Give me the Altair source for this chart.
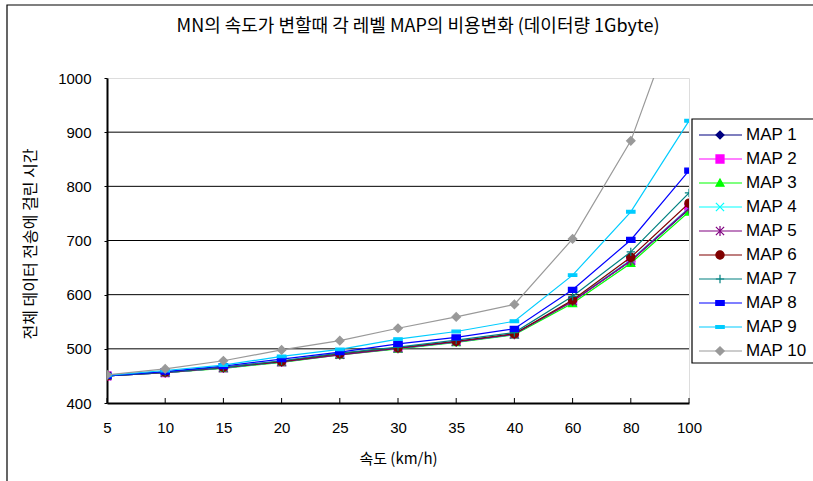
import altair as alt
import pandas as pd

# Speed categories (km/h) and the total transfer time for each MAP level
speeds = ["5", "10", "15", "20", "25", "30", "35", "40", "60", "80", "100"]
names = ["MAP 1", "MAP 2", "MAP 3", "MAP 4", "MAP 5",
         "MAP 6", "MAP 7", "MAP 8", "MAP 9", "MAP 10"]

map1 = [450, 456, 465, 476, 490, 501, 513, 527, 588, 662, 758]
map2 = [450, 456, 465, 476, 490, 501, 514, 527, 588, 663, 760]
map3 = [450, 456, 464, 475, 489, 500, 512, 526, 584, 658, 753]
map4 = [450, 456, 465, 476, 490, 501, 513, 527, 589, 664, 760]
map5 = [450, 456, 465, 476, 489, 501, 513, 527, 588, 663, 759]
map6 = [450, 457, 466, 477, 491, 502, 514, 528, 590, 669, 769]
map7 = [450, 457, 466, 478, 492, 503, 516, 530, 597, 679, 788]
map8 = [450, 458, 468, 481, 494, 509, 521, 537, 609, 701, 829]
map9 = [451, 460, 470, 486, 499, 518, 532, 551, 636, 753, 921]
map10 = [452, 463, 478, 498, 515, 538, 559, 582, 703, 884, 1180]
series_values = [map1, map2, map3, map4, map5, map6, map7, map8, map9, map10]

y_ticks = [400, 500, 600, 700, 800, 900, 1000]
grid_values = [500, 600, 700, 800, 900]

title_text = "MN의 속도가 변할때 각 레벨 MAP의 비용변화 (데이터량 1Gbyte)"
x_title = "속도 (km/h)"
y_title = "전체 데이터 전송에 걸린 시간"

# Excel-style series styling
colors = ["#000080", "#FF00FF", "#00FF00", "#00FFFF", "#800080",
          "#800000", "#008080", "#0000FF", "#00CCFF", "#999999"]
shapes = [
    "M-1,0L0,-1L1,0L0,1Z",                       # diamond
    "M-1,-1L1,-1L1,1L-1,1Z",                     # square
    "M0,-1L1,0.8L-1,0.8Z",                       # triangle
    "M-1,-1L1,1M-1,1L1,-1",                      # x
    "M-1,-1L1,1M-1,1L1,-1M0,-1.2L0,1.2",         # asterisk
    "circle",                                    # circle
    "M-1,0L1,0M0,-1L0,1",                        # plus
    "M-1,-0.6L1,-0.6L1,0.6L-1,0.6Z",             # small bar
    "M-1,-0.32L1,-0.32L1,0.32L-1,0.32Z",         # wide bar
    "M-1,0L0,-1L1,0L0,1Z",                       # diamond
]
sizes = [64, 72, 81, 64, 64, 100, 81, 49, 121, 72]

rows = []
for name, vals in zip(names, series_values):
    for s, v in zip(speeds, vals):
        rows.append({"speed": s, "series": name, "value": v})
df = pd.DataFrame(rows)

W, H = 582, 325
FONT = "Liberation Sans, Noto Sans CJK KR"
KFONT = "Noto Sans CJK KR"

color_scale = alt.Scale(domain=names, range=colors)
shape_scale = alt.Scale(domain=names, range=shapes)
size_scale = alt.Scale(domain=names, range=sizes)

x_enc = alt.X(
    "speed:N", sort=speeds,
    scale=alt.Scale(type="point", padding=0),
    axis=alt.Axis(
        title=x_title, titleFont=KFONT, titleFontSize=15, titleFontWeight="normal",
        titleColor="black", titleX=W / 2, titleY=55, titleBaseline="middle",
        labelAngle=0, labelFont=FONT, labelFontSize=15, labelColor="black",
        labelPadding=17, ticks=False, domainColor="black", domainWidth=2,
        grid=False,
    ),
)
y_enc = alt.Y(
    "value:Q",
    scale=alt.Scale(domain=[400, 1000], nice=False, zero=False),
    axis=alt.Axis(
        title=y_title, titleFont=KFONT, titleFontSize=16, titleFontWeight="normal",
        titleColor="black", titleX=-77, titleY=H / 2 + 3, titleAngle=-90,
        titleBaseline="middle", titleAlign="center",
        values=y_ticks, format="d", labelFont=FONT, labelFontSize=15,
        labelColor="black", labelPadding=13, tickSize=3, tickColor="black",
        tickWidth=1, domainColor="black", domainWidth=2, grid=False,
    ),
)

base = alt.Chart(df)

# horizontal gridlines
grid = alt.Chart(pd.DataFrame({"value": grid_values})).mark_rule(
    color="black", strokeWidth=1
).encode(y=alt.Y("value:Q", scale=alt.Scale(domain=[400, 1000], nice=False, zero=False)))

# inward tick marks on the category axis
xticks = alt.Chart(pd.DataFrame({"speed": speeds})).mark_rule(
    color="black", strokeWidth=1
).encode(x=alt.X("speed:N", sort=speeds), y=alt.value(H - 5), y2=alt.value(H))

layers = [grid]
for name in names:
    sub = base.transform_filter(alt.datum.series == name)
    line = sub.mark_line(strokeWidth=1.2, clip=True).encode(
        x=x_enc, y=y_enc,
        color=alt.Color("series:N", scale=color_scale, legend=None),
    )
    pts = sub.mark_point(opacity=1, strokeWidth=1.2, clip=True).encode(
        x=x_enc, y=y_enc,
        fill=alt.Fill("series:N", scale=color_scale, legend=None),
        stroke=alt.Stroke("series:N", scale=color_scale, legend=None),
        shape=alt.Shape("series:N", scale=shape_scale, legend=None),
        size=alt.Size("series:N", scale=size_scale, legend=None),
    )
    layers += [line, pts]
layers.append(xticks)
main = alt.layer(*layers)

# hand-built legend box beside the plot, plus the outer chart frame
one = pd.DataFrame({"k": [0]})
frame = alt.Chart(one).mark_rect(fill=None, stroke="black", strokeWidth=1.2).encode(
    x=alt.value(-100), x2=alt.value(W + 300), y=alt.value(-73), y2=alt.value(H + 200)
)
box = alt.Chart(one).mark_rect(fill="white", stroke="black", strokeWidth=1.2).encode(
    x=alt.value(585), x2=alt.value(740), y=alt.value(41), y2=alt.value(285)
)
leg_df = pd.DataFrame({"series": names})
leg_y = alt.Y("series:N", sort=names,
              scale=alt.Scale(type="point", range=[57, 273], padding=0), axis=None)
leg_rule = alt.Chart(leg_df).mark_rule(strokeWidth=1.2).encode(
    x=alt.value(592), x2=alt.value(635), y=leg_y,
    color=alt.Color("series:N", scale=color_scale, legend=None),
)
leg_pts = alt.Chart(leg_df).mark_point(opacity=1, strokeWidth=1.2).encode(
    x=alt.value(613), y=leg_y,
    fill=alt.Fill("series:N", scale=color_scale, legend=None),
    stroke=alt.Stroke("series:N", scale=color_scale, legend=None),
    shape=alt.Shape("series:N", scale=shape_scale, legend=None),
    size=alt.Size("series:N", scale=size_scale, legend=None),
)
leg_txt = alt.Chart(leg_df).mark_text(
    align="left", baseline="middle", font=FONT, fontSize=17, color="black"
).encode(x=alt.value(639), y=leg_y, text="series:N")
legend = alt.layer(frame, box, leg_rule, leg_pts, leg_txt)

chart = alt.layer(main, legend).resolve_scale(y="independent").properties(
    width=W, height=H,
    title=alt.Title(title_text, font=KFONT, fontSize=18, fontWeight="normal",
                    color="black", anchor="middle", frame="group", dx=20,
                    offset=-32),
    autosize=alt.AutoSizeParams(type="none"),
    padding={"left": 107, "top": 78, "right": 124, "bottom": 78},
).configure_view(
    stroke="#808080", strokeWidth=2
).configure(background="white")

chart.save("out.html", embed_options={"renderer": "svg", "actions": False})
